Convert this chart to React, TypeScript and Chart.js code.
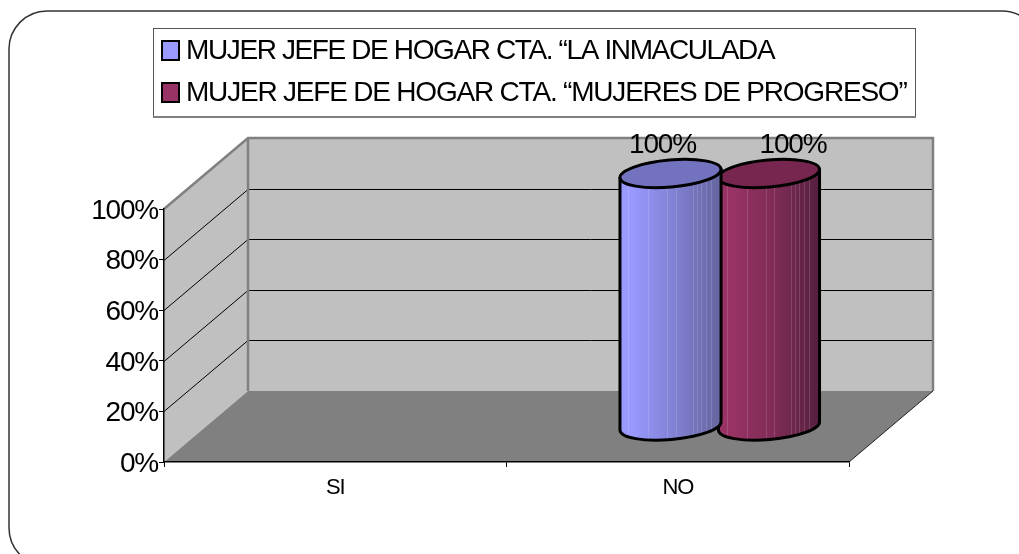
import React, { useEffect, useRef } from "react";
import { Chart, registerables } from "chart.js";

Chart.register(...registerables);

const categories = ["SI", "NO"];
const inmaculadaValues = [0, 100];
const progresoValues = [0, 100];
const seriesLabels = [
  "MUJER JEFE DE HOGAR CTA. \u201CLA INMACULADA",
  "MUJER JEFE DE HOGAR CTA. \u201CMUJERES DE PROGRESO\u201D",
];
const seriesColors = ["#9999FF", "#993366"];
const bodyEndColors = ["#64649E", "#55203F"];
const bodyMidColors = ["#8080D2", "#7F2C56"];
const topColors = ["#7272BE", "#77264F"];

const FONT = '"Liberation Sans", Arial, sans-serif';
const DX = 84;
const DY = -71;
const BAR_LABEL_SHIFT = [-8, 24];
const LEGEND_TRACKING = ["-1.38px", "-1.2px"];
const STRIPES = [0.08, 0.28, 0.47, 0.55, 0.72, 0.76, 0.8, 0.85, 0.9];

const stage3d = {
  id: "stage3d",
  beforeDraw(chart: any) {
    const ctx = chart.ctx;
    const { left, right, top, bottom } = chart.chartArea;
    ctx.save();
    ctx.fillStyle = "#fff";
    ctx.fillRect(0, 0, chart.width, chart.height);

    // outer rounded frame
    ctx.beginPath();
    ctx.roundRect(9, 11, 1031, 555, 38);
    ctx.strokeStyle = "#333";
    ctx.lineWidth = 1.5;
    ctx.stroke();

    // back wall
    ctx.fillStyle = "#C0C0C0";
    ctx.fillRect(left + DX, top + DY, right - left, bottom - top);
    // left wall
    ctx.beginPath();
    ctx.moveTo(left, top);
    ctx.lineTo(left + DX, top + DY);
    ctx.lineTo(left + DX, bottom + DY);
    ctx.lineTo(left, bottom);
    ctx.closePath();
    ctx.fill();
    // floor
    ctx.fillStyle = "#808080";
    ctx.beginPath();
    ctx.moveTo(left, bottom);
    ctx.lineTo(right, bottom);
    ctx.lineTo(right + DX, bottom + DY);
    ctx.lineTo(left + DX, bottom + DY);
    ctx.closePath();
    ctx.fill();

    // gridlines from the value scale
    const yScale = chart.scales.y;
    ctx.strokeStyle = "#000";
    ctx.lineWidth = 1;
    yScale.ticks.forEach((t: any) => {
      if (t.value <= 0 || t.value >= 100) return;
      const y = Math.round(yScale.getPixelForValue(t.value));
      ctx.beginPath();
      ctx.moveTo(left, y + 0.5);
      ctx.lineTo(left + DX, y + DY + 0.5);
      ctx.lineTo(right + DX, y + DY + 0.5);
      ctx.stroke();
    });

    // grey wall edges
    ctx.strokeStyle = "#808080";
    ctx.lineWidth = 2.5;
    ctx.beginPath();
    ctx.moveTo(left, top);
    ctx.lineTo(left + DX, top + DY);
    ctx.lineTo(right + DX, top + DY);
    ctx.lineTo(right + DX, bottom + DY);
    ctx.moveTo(left + DX, top + DY);
    ctx.lineTo(left + DX, bottom + DY);
    ctx.stroke();

    // floor right edge
    ctx.strokeStyle = "#222";
    ctx.lineWidth = 1;
    ctx.beginPath();
    ctx.moveTo(right, bottom);
    ctx.lineTo(right + DX, bottom + DY);
    ctx.stroke();

    // legend
    ctx.fillStyle = "#fff";
    ctx.fillRect(153, 28, 762, 89);
    ctx.strokeStyle = "#555";
    ctx.lineWidth = 1;
    ctx.strokeRect(153.5, 28.5, 762, 88);
    ctx.strokeStyle = "#808080";
    ctx.lineWidth = 2;
    ctx.beginPath();
    ctx.moveTo(153, 117);
    ctx.lineTo(916, 117);
    ctx.stroke();
    chart.data.datasets.forEach((ds: any, i: number) => {
      const y = 41 + i * 42;
      ctx.fillStyle = ds.backgroundColor;
      ctx.fillRect(162, y, 17, 19);
      ctx.strokeStyle = "#000";
      ctx.lineWidth = 2;
      ctx.strokeRect(162, y, 17, 19);
      ctx.fillStyle = "#000";
      ctx.font = `28px ${FONT}`;
      (ctx as any).letterSpacing = LEGEND_TRACKING[i];
      ctx.textAlign = "left";
      ctx.textBaseline = "middle";
      ctx.fillText(ds.label, 186, y + 10);
    });
    ctx.restore();
    (ctx as any).letterSpacing = "-1.2px";
  },
  beforeDatasetDraw(chart: any, args: any) {
    const ctx = chart.ctx;
    const i = args.index;
    const meta = args.meta;
    const rot = (-5 * Math.PI) / 180;
    meta.data.forEach((bar: any, j: number) => {
      if (!chart.data.datasets[i].data[j]) return;
      const half = bar.width / 2 + 1.5;
      const cx = bar.x + DX / 2;
      const topY = bar.y + DY / 2;
      const baseY = bar.base + DY / 2;
      const ry = 13.5;
      const lx = cx - half * Math.cos(rot);
      const rx = cx + half * Math.cos(rot);
      ctx.save();
      const body = new Path2D();
      body.moveTo(lx, topY - half * Math.sin(rot));
      body.lineTo(lx, baseY - half * Math.sin(rot));
      body.ellipse(cx, baseY, half, ry, rot, Math.PI, 0, true);
      body.lineTo(rx, topY + half * Math.sin(rot));
      body.closePath();
      const grad = ctx.createLinearGradient(lx, 0, rx, 0);
      grad.addColorStop(0, chart.data.datasets[i].backgroundColor);
      grad.addColorStop(0.12, chart.data.datasets[i].backgroundColor);
      grad.addColorStop(0.55, bodyMidColors[i]);
      grad.addColorStop(1, bodyEndColors[i]);
      ctx.fillStyle = grad;
      ctx.fill(body);
      ctx.save();
      ctx.clip(body);
      ctx.strokeStyle = "rgba(255,255,255,0.14)";
      ctx.lineWidth = 1;
      STRIPES.forEach((f) => {
        const x = Math.round(lx + (rx - lx) * f) + 0.5;
        ctx.beginPath();
        ctx.moveTo(x, topY);
        ctx.lineTo(x, baseY + 30);
        ctx.stroke();
      });
      ctx.restore();
      ctx.strokeStyle = "#000";
      ctx.lineWidth = 3;
      ctx.lineJoin = "round";
      ctx.stroke(body);
      const cap = new Path2D();
      cap.ellipse(cx, topY, half, ry, rot, 0, Math.PI * 2);
      ctx.fillStyle = topColors[i];
      ctx.fill(cap);
      ctx.stroke(cap);
      ctx.restore();
    });
    return false;
  },
  afterDatasetsDraw(chart: any) {
    const ctx = chart.ctx;
    chart.data.datasets.forEach((ds: any, i: number) => {
      chart.getDatasetMeta(i).data.forEach((bar: any, j: number) => {
        if (!ds.data[j]) return;
        ctx.save();
        ctx.font = `28px ${FONT}`;
        (ctx as any).letterSpacing = "-1.2px";
        ctx.fillStyle = "#000";
        ctx.textAlign = "center";
        ctx.textBaseline = "middle";
        ctx.fillText(`${ds.data[j]}%`, bar.x + DX / 2 + BAR_LABEL_SHIFT[i], bar.y - 64);
        ctx.restore();
      });
    });
  },
};

export default function App() {
  const ref = useRef<HTMLCanvasElement>(null);
  useEffect(() => {
    document.body.style.margin = "0";
    const chart = new Chart(ref.current as HTMLCanvasElement, {
      type: "bar",
      data: {
        labels: categories,
        datasets: [
          { label: seriesLabels[0], data: inmaculadaValues, backgroundColor: seriesColors[0] },
          { label: seriesLabels[1], data: progresoValues, backgroundColor: seriesColors[1] },
        ],
      },
      plugins: [stage3d],
      options: {
        responsive: false,
        animation: false,
        layout: { padding: { top: 209, right: 170, left: 0, bottom: 0 } },
        datasets: { bar: { barPercentage: 1, categoryPercentage: 0.575 } },
        plugins: { legend: { display: false }, tooltip: { enabled: false }, title: { display: false } },
        scales: {
          x: {
            afterFit: (s: any) => { s.height = 92; },
            grid: { drawOnChartArea: false, drawTicks: true, tickLength: 5, color: "#000" },
            border: { color: "#000", width: 1.5 },
            ticks: { color: "#000", font: { family: FONT, size: 22 }, padding: 8, maxRotation: 0 },
          },
          y: {
            min: 0,
            max: 100,
            afterFit: (s: any) => { s.width = 164; },
            grid: { drawOnChartArea: false, drawTicks: true, tickLength: 5, color: "#000" },
            border: { color: "#000", width: 1.5 },
            ticks: {
              stepSize: 20,
              color: "#000",
              font: { family: FONT, size: 28 },
              padding: 1,
              labelOffset: 2,
              callback: (v: any) => `${v}%`,
            },
          },
        },
      },
    } as any);
    return () => chart.destroy();
  }, []);
  return (
    <div style={{ position: "absolute", left: 0, top: 0, width: 1019, height: 554, overflow: "hidden" }}>
      <canvas ref={ref} width={1019} height={554} style={{ display: "block" }} />
    </div>
  );
}
